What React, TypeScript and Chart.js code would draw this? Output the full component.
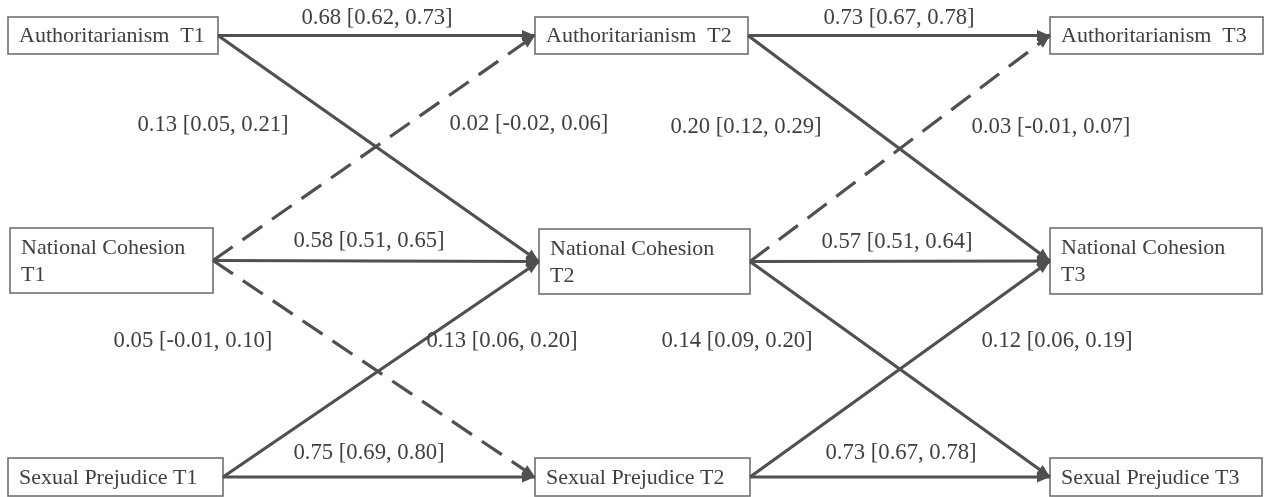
import React, { useEffect, useRef } from 'react';
import { Chart, registerables } from 'chart.js';

Chart.register(...registerables);

// ---- data ----
const nodeLabels: string[][] = [
  ['Authoritarianism  T1'],
  ['National Cohesion', 'T1'],
  ['Sexual Prejudice T1'],
  ['Authoritarianism  T2'],
  ['National Cohesion', 'T2'],
  ['Sexual Prejudice T2'],
  ['Authoritarianism  T3'],
  ['National Cohesion', 'T3'],
  ['Sexual Prejudice T3'],
];
const pathFrom = [0, 0, 1, 1, 1, 2, 2, 3, 3, 4, 4, 4, 5, 5];
const pathTo = [3, 4, 3, 4, 5, 4, 5, 6, 7, 6, 7, 8, 7, 8];
const estimates = [0.68, 0.13, 0.02, 0.58, 0.05, 0.13, 0.75, 0.73, 0.2, 0.03, 0.57, 0.14, 0.12, 0.73];
const lowers = [0.62, 0.05, -0.02, 0.51, -0.01, 0.06, 0.69, 0.67, 0.12, -0.01, 0.51, 0.09, 0.06, 0.67];
const uppers = [0.73, 0.21, 0.06, 0.65, 0.1, 0.2, 0.8, 0.78, 0.29, 0.07, 0.64, 0.2, 0.19, 0.78];

// ---- layout (chart units = pixels of the 1265x497 area) ----
const boxLayout: number[][] = [
  [8, 17, 218, 54],
  [10, 228, 213, 293],
  [8, 458, 223, 496],
  [535, 17, 748, 54],
  [539, 229, 750, 294],
  [535, 458, 750, 496],
  [1050, 17, 1263, 54],
  [1050, 228, 1262, 294],
  [1050, 458, 1262, 496],
];
const labelLayout: number[][] = [
  [377, 18], [213, 125], [529, 124], [369, 241], [193, 341], [502, 341], [369, 453],
  [899, 18], [746, 127], [1051, 127], [897, 242], [737, 341], [1057, 341], [901, 453],
];

const FAMILY = "'Liberation Serif', Tinos, 'DejaVu Serif', 'Times New Roman', serif";
const FONT = '22px ' + FAMILY;
const LABEL_FONT = '22.7px ' + FAMILY;
const TEXT_COLOR = '#404040';
const LINE_COLOR = '#505050';
const BOX_COLOR = '#707070';

const fmt = (v: number) => v.toFixed(2);

const diagramPlugin = {
  id: 'diagram',
  beforeDatasetsDraw(chart: any) {
    const { ctx, scales } = chart;
    const xs = scales.x;
    const ys = scales.y;
    ctx.save();
    ctx.font = FONT;
    ctx.textBaseline = 'middle';
    ctx.textAlign = 'left';
    boxLayout.forEach((b, i) => {
      const l = xs.getPixelForValue(b[0]);
      const t = ys.getPixelForValue(b[1]);
      const r = xs.getPixelForValue(b[2]);
      const bo = ys.getPixelForValue(b[3]);
      ctx.fillStyle = '#ffffff';
      ctx.fillRect(l, t, r - l, bo - t);
      ctx.strokeStyle = BOX_COLOR;
      ctx.lineWidth = 1.6;
      ctx.strokeRect(l, t, r - l, bo - t);
      ctx.fillStyle = TEXT_COLOR;
      const lines = nodeLabels[i];
      if (lines.length === 1) {
        ctx.fillText(lines[0], l + 11, (t + bo) / 2 + 1);
      } else {
        ctx.fillText(lines[0], l + 11, t + 20);
        ctx.fillText(lines[1], l + 11, t + 47);
      }
    });
    ctx.restore();
  },
  afterDatasetsDraw(chart: any) {
    const { ctx, scales } = chart;
    const xs = scales.x;
    const ys = scales.y;
    ctx.save();
    chart.data.datasets.forEach((ds: any, i: number) => {
      const meta = chart.getDatasetMeta(i);
      const p0 = meta.data[0];
      const p1 = meta.data[1];
      const dx = p1.x - p0.x;
      const dy = p1.y - p0.y;
      const len = Math.sqrt(dx * dx + dy * dy);
      const ux = dx / len;
      const uy = dy / len;
      const L = 13;
      const W = 5.5;
      ctx.beginPath();
      ctx.moveTo(p1.x, p1.y);
      ctx.lineTo(p1.x - ux * L - uy * W, p1.y - uy * L + ux * W);
      ctx.lineTo(p1.x - ux * L + uy * W, p1.y - uy * L - ux * W);
      ctx.closePath();
      ctx.fillStyle = LINE_COLOR;
      ctx.fill();
    });
    ctx.font = LABEL_FONT;
    ctx.textBaseline = 'middle';
    ctx.textAlign = 'center';
    ctx.fillStyle = TEXT_COLOR;
    estimates.forEach((e, i) => {
      const txt = `${fmt(e)} [${fmt(lowers[i])}, ${fmt(uppers[i])}]`;
      ctx.fillText(txt, xs.getPixelForValue(labelLayout[i][0]), ys.getPixelForValue(labelLayout[i][1]));
    });
    ctx.restore();
  },
};

export default function App() {
  const canvasRef = useRef<HTMLCanvasElement | null>(null);

  useEffect(() => {
    if (!canvasRef.current) return;
    const datasets = pathFrom.map((f, i) => {
      const s = boxLayout[f];
      const t = boxLayout[pathTo[i]];
      const dashed = lowers[i] < 0;
      return {
        type: 'line' as const,
        data: [
          { x: s[2], y: (s[1] + s[3]) / 2 },
          { x: t[0], y: (t[1] + t[3]) / 2 },
        ],
        borderColor: LINE_COLOR,
        borderWidth: 3.2,
        borderDash: dashed ? [24, 12] : [],
        pointRadius: 0,
        pointHoverRadius: 0,
        showLine: true,
        fill: false,
        tension: 0,
      };
    });
    const chart = new Chart(canvasRef.current, {
      type: 'scatter',
      data: { datasets: datasets as any },
      options: {
        animation: false,
        responsive: true,
        maintainAspectRatio: false,
        layout: { padding: 0 },
        events: [],
        plugins: {
          legend: { display: false },
          tooltip: { enabled: false },
        },
        scales: {
          x: { type: 'linear', min: 0, max: 1265, display: false },
          y: { type: 'linear', min: 0, max: 497, reverse: true, display: false },
        },
      },
      plugins: [diagramPlugin],
    });
    let alive = true;
    const fonts: any = (document as any).fonts;
    if (fonts && fonts.load) {
      fonts.load(FONT, '0.68 Authoritarianism').then(() => {
        if (alive) chart.draw();
      }).catch(() => {});
      fonts.ready.then(() => { if (alive) chart.draw(); });
    }
    return () => {
      alive = false;
      chart.destroy();
    };
  }, []);

  return (
    <div style={{ position: 'fixed', left: 0, top: 0, width: 1265, height: 497, background: '#ffffff' }}>
      <span style={{ position: 'absolute', left: -9999, fontFamily: FAMILY, fontSize: 22 }}>Aa0.68</span>
      <canvas ref={canvasRef} />
    </div>
  );
}
